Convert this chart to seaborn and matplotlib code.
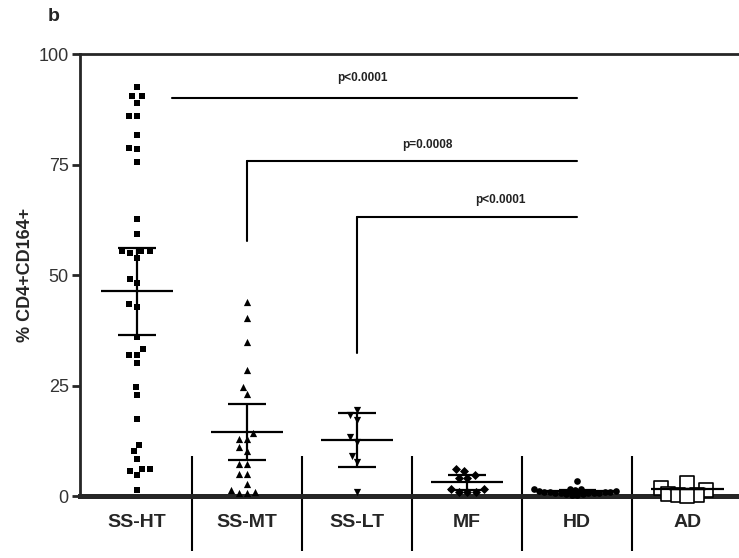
import pandas as pd
import seaborn as sns
import matplotlib.pyplot as plt

# Categories and marker per group
groups = ["SS-HT", "SS-MT", "SS-LT", "MF", "HD", "AD"]

ss_ht = [92.6, 90.5, 90.5, 89.0, 85.9, 86.1, 81.7, 78.5, 78.8, 75.6,
         62.6, 59.4, 55.5, 55.5, 55.5, 55.0, 53.9,
         49.1, 48.2, 43.5, 42.8,
         35.9, 33.3, 32.0, 32.0, 30.1,
         24.6, 22.8, 17.4,
         11.6, 10.1, 8.4, 6.2, 6.2, 5.7, 4.7, 1.4]
ss_mt = [43.9, 40.3, 34.9, 28.5, 24.6, 23.0, 14.3, 12.9, 12.9, 11.0,
         10.3, 7.2, 7.2, 5.0, 5.0, 2.7, 1.4, 0.9, 0.6, 0.6]
ss_lt = [19.4, 18.3, 17.3, 13.3, 12.2, 9.1, 7.6, 0.9]
mf = [6.2, 5.7, 4.8, 4.0, 4.0, 1.5, 1.5, 0.9, 0.9, 0.9]
hd = [3.4, 1.6, 1.5, 1.5, 1.3, 1.2, 1.1, 1.0, 1.0, 0.9, 0.9, 0.8,
      0.8, 0.7, 0.7, 0.6, 0.5, 0.4, 0.3, 0.2]
ad = [2.9, 1.9, 1.3, 0.4, 0.3, 0.2, 0.1]

# mean and 95% CI
means = [46.3, 14.5, 12.6, 3.1, 1.1, 1.5]
ci_low = [36.5, 8.2, 6.6, 1.4, 0.8, 1.5]
ci_high = [56.2, 20.8, 18.8, 4.7, 1.4, 1.5]

# significance brackets
br_start = [0.32, 1.0, 2.0]
br_end = [4.0, 4.0, 4.0]
br_y = [90.0, 75.8, 63.2]
br_drop = [None, 57.8, 32.4]
p_text = ["p<0.0001", "p=0.0008", "p<0.0001"]
p_x = [2.05, 2.64, 3.3]
p_y = [94.7, 79.5, 66.9]

values = [ss_ht, ss_mt, ss_lt, mf, hd, ad]
df = pd.DataFrame({
    "group": [g for g, v in zip(groups, values) for _ in v],
    "pct": [x for v in values for x in v],
})

sns.set_style("ticks")
plt.rcParams["font.family"] = ["Liberation Sans", "DejaVu Sans"]

fig, ax = plt.subplots(figsize=(7.39, 5.58), dpi=100)
fig.subplots_adjust(left=0.108, right=1.0, bottom=0.111, top=0.903)

markers = ["s", "^", "v", "D", "o", "s"]
swarm_sizes = [5.8, 5.8, 5.8, 5.8, 3.8, 5.5]   # size used to lay out the swarm
shown_sizes = [4.5, 5.2, 5.2, 4.6, 4.8, 10]    # size actually drawn
swarms = []
for g, m, s, d in zip(groups, markers, swarm_sizes, shown_sizes):
    sub = df[df["group"] == g]
    n = len(ax.collections)
    if g == "AD":
        sns.swarmplot(data=sub, x="group", y="pct", order=groups, marker=m,
                      size=s, color="white", edgecolor="black", linewidth=1.2, ax=ax)
    else:
        sns.swarmplot(data=sub, x="group", y="pct", order=groups, marker=m,
                      size=s, color="black", linewidth=0, ax=ax)
    for c in ax.collections[n:]:
        swarms.append((c, d))

ax.set_xlim(-0.52, 5.47)
ax.set_ylim(0, 100)

# let seaborn place the swarm once, then freeze it and draw at the display size
fig.canvas.draw()
for c, d in swarms:
    if "draw" in c.__dict__:
        del c.draw
    c.set_sizes([d ** 2])
    c.set_clip_on(False)
    c.set_zorder(3)

pos = range(len(groups))
ax.hlines(means, [p - 0.33 for p in pos], [p + 0.33 for p in pos], color="black", lw=1.6, zorder=4)
ax.vlines(pos, ci_low, ci_high, color="black", lw=1.6, zorder=4)
ax.hlines(ci_low, [p - 0.17 for p in pos], [p + 0.17 for p in pos], color="black", lw=1.6, zorder=4)
ax.hlines(ci_high, [p - 0.17 for p in pos], [p + 0.17 for p in pos], color="black", lw=1.6, zorder=4)

# separators between groups
ax.vlines([p + 0.5 for p in range(len(groups) - 1)], -12.5, 9, color="black", lw=1.5, clip_on=False)

for x0, x1, y, d, t, tx, ty in zip(br_start, br_end, br_y, br_drop, p_text, p_x, p_y):
    ax.plot([x0, x1], [y, y], color="black", lw=1.5)
    if d is not None:
        ax.plot([x0, x0], [d, y], color="black", lw=1.5)
    ax.text(tx, ty, t, ha="center", va="center", fontsize=8.5, fontweight="bold", color="#222222")

ax.set_xlim(-0.52, 5.47)
ax.set_ylim(0, 100)
ax.set_yticks([0, 25, 50, 75, 100])
ax.set_xlabel("")
ax.set_ylabel("% CD4+CD164+", fontsize=13, fontweight="bold", labelpad=3)

ax.spines["right"].set_visible(False)
ax.spines["top"].set_linewidth(2)
ax.spines["left"].set_linewidth(2)
ax.spines["bottom"].set_linewidth(3.6)
ax.tick_params(axis="y", length=6, width=2, labelsize=13, labelcolor="#333333", pad=2)
ax.tick_params(axis="x", length=0, labelsize=14, pad=13)
for lab in ax.get_xticklabels():
    lab.set_fontweight("bold")

fig.text(0.072, 0.97, "b", fontsize=14, fontweight="bold", ha="center", va="center")

plt.savefig("out.png", dpi=100)
